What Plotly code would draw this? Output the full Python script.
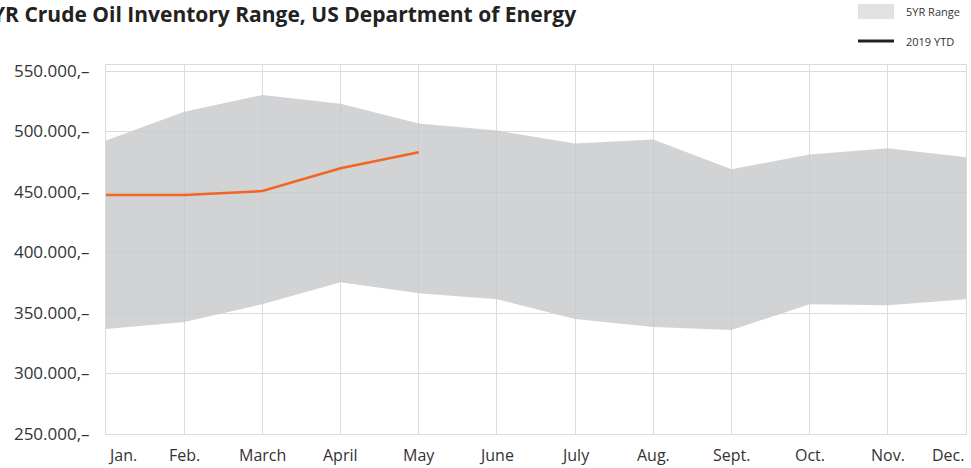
import plotly.graph_objects as go

months = ["Jan.", "Feb.", "March", "April", "May", "June", "July", "Aug.", "Sept.", "Oct.", "Nov.", "Dec."]
range_high = [492600, 516400, 530300, 523000, 506600, 500800, 490200, 493400, 468800, 481100, 486100, 478700]
range_low = [336800, 342600, 357300, 375400, 366300, 361400, 345000, 338500, 336000, 357300, 356500, 361400]
ytd_2019 = [447500, 447500, 450800, 469700, 482800]
y_ticks = [250000, 300000, 350000, 400000, 450000, 500000, 550000]
y_ticktext = ["250.000,–", "300.000,–", "350.000,–", "400.000,–", "450.000,–", "500.000,–", "550.000,–"]

xs = list(range(len(months)))

W, H = 971, 468
ML, MR, MT, MB = 106, 5, 65, 34
pw = W - ML - MR
ph = H - MT - MB

def px_x(px):
    return (px - ML) / pw

def px_y(py):
    return (H - py - MB) / ph

band_fill = "rgba(199,200,202,0.8)"

fig = go.Figure()
fig.add_trace(go.Scatter(x=xs, y=range_low, mode="lines", line=dict(width=0, color=band_fill),
                         showlegend=False, hoverinfo="skip"))
fig.add_trace(go.Scatter(x=xs, y=range_high, mode="lines", line=dict(width=0, color=band_fill),
                         fill="tonexty", fillcolor=band_fill, name="5YR Range", showlegend=False))
fig.add_trace(go.Scatter(x=xs[:len(ytd_2019)], y=ytd_2019, mode="lines",
                         line=dict(width=2.5, color="#f26522"), name="2019 YTD", showlegend=False))

font_family = "'Open Sans', sans-serif"

annotations = []
for i, m in enumerate(months):
    anchor = "center"
    if i == 0:
        anchor = "left"
    elif i == len(months) - 1:
        anchor = "right"
    annotations.append(dict(x=i, y=0, xref="x", yref="paper", text=m, showarrow=False,
                            xanchor=anchor, yanchor="top", yshift=-8,
                            font=dict(size=16, color="#333333", family=font_family)))

annotations.append(dict(x=px_x(578), y=px_y(14), xref="paper", yref="paper",
                        text="<b>5YR Crude Oil Inventory Range, US Department of Energy</b>",
                        showarrow=False, xanchor="right", yanchor="middle",
                        font=dict(size=21, color="#222222", family=font_family)))

shapes = [
    dict(type="rect", xref="paper", yref="paper", x0=px_x(858), x1=px_x(894), y0=px_y(19), y1=px_y(4),
         fillcolor="#e1e2e4", line=dict(width=0)),
    dict(type="line", xref="paper", yref="paper", x0=px_x(858), x1=px_x(894), y0=px_y(41), y1=px_y(41),
         line=dict(color="#222222", width=3)),
]
annotations.append(dict(x=px_x(904), y=px_y(11), xref="paper", yref="paper", text="5YR Range", showarrow=False,
                        xanchor="left", yanchor="middle", font=dict(size=11, color="#333333", family=font_family)))
annotations.append(dict(x=px_x(904), y=px_y(41), xref="paper", yref="paper", text="2019 YTD", showarrow=False,
                        xanchor="left", yanchor="middle", font=dict(size=11, color="#333333", family=font_family)))

fig.update_layout(
    width=W, height=H,
    margin=dict(l=ML, r=MR, t=MT, b=MB),
    paper_bgcolor="white", plot_bgcolor="white",
    showlegend=False,
    xaxis=dict(range=[0, 11], tickvals=xs, showticklabels=False, showgrid=True,
               gridcolor="#dcdcdc", gridwidth=1, zeroline=False, showline=True,
               linecolor="#dcdcdc", mirror=True, ticks=""),
    yaxis=dict(range=[250000, 555000], tickvals=y_ticks, ticktext=y_ticktext,
               showgrid=True, gridcolor="#dcdcdc", zeroline=False, showline=True,
               linecolor="#dcdcdc", mirror=True, ticks="", ticklabelstandoff=12,
               tickfont=dict(size=17, color="#333333", family=font_family)),
    annotations=annotations, shapes=shapes,
)

fig.write_html("out.html", config={"displayModeBar": False},
               post_script="document.body.style.margin='0';document.body.style.overflow='hidden';")
